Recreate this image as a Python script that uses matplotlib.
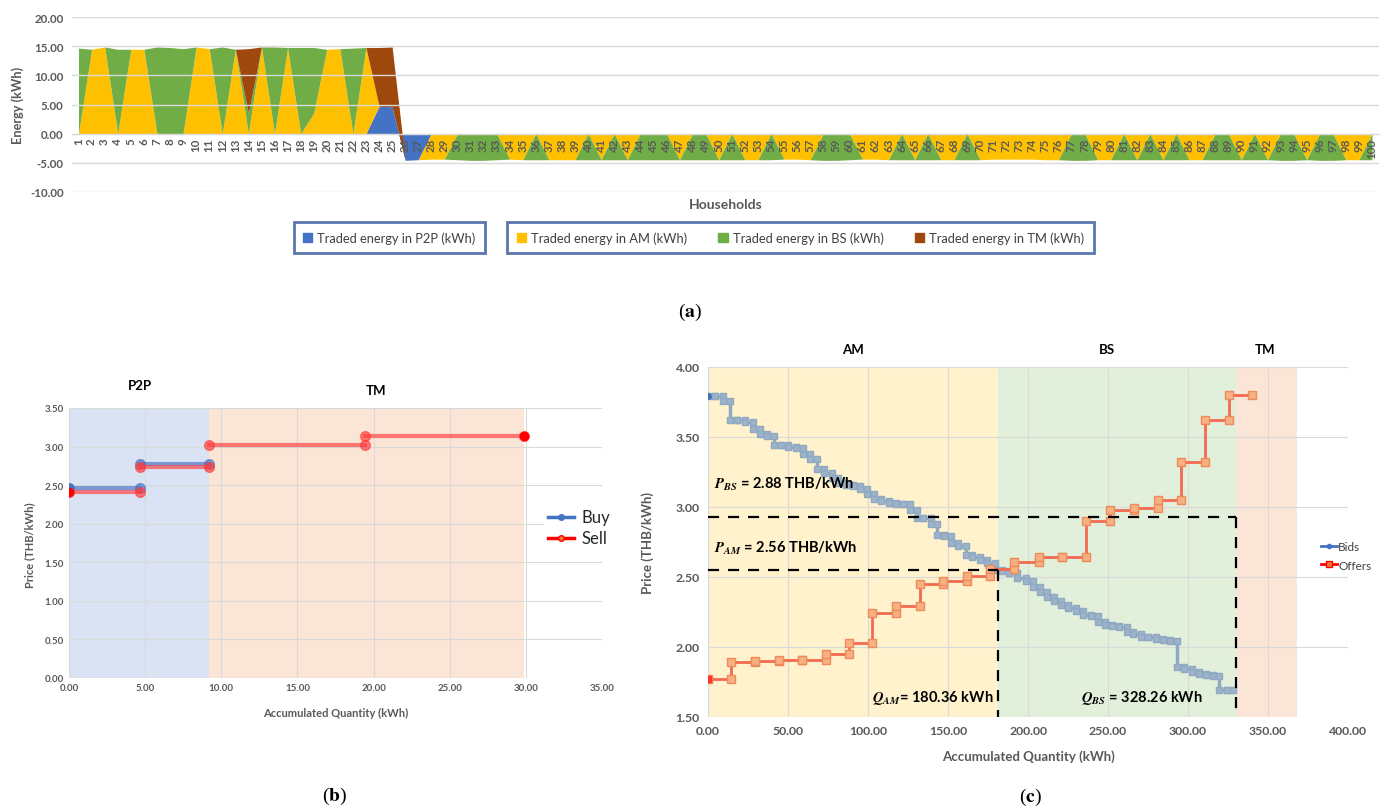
import matplotlib.pyplot as plt
import numpy as np
from matplotlib.patches import Patch
from matplotlib.lines import Line2D

plt.rcParams['font.family'] = ['Lato', 'DejaVu Sans']
plt.rcParams['mathtext.fontset'] = 'stix'

W, H = 1384, 812
GRAY = '#595959'
GRID = '#D9D9D9'

# ---------------- (a) traded energy per household ----------------
households = list(range(1, 101))
market = ['BS', 'AM', 'AM', 'BS', 'AM', 'AM', 'BS', 'BS', 'BS', 'AM',
          'AM', 'BS', 'AM', 'MIX', 'AM', 'BS', 'AM', 'BS', 'MIX', 'AM',
          'AM', 'BS', 'AM', 'MIX', 'MIX', 'P2P', 'P2P', 'AM', 'AM', 'BS',
          'BS', 'BS', 'BS', 'AM', 'AM', 'BS', 'AM', 'AM', 'AM', 'BS',
          'AM', 'BS', 'AM', 'BS', 'BS', 'BS', 'AM', 'BS', 'BS', 'AM',
          'BS', 'AM', 'AM', 'BS', 'AM', 'AM', 'AM', 'BS', 'BS', 'BS',
          'AM', 'AM', 'AM', 'BS', 'AM', 'BS', 'AM', 'AM', 'BS', 'AM',
          'AM', 'AM', 'AM', 'AM', 'AM', 'AM', 'BS', 'BS', 'AM', 'AM',
          'BS', 'AM', 'BS', 'AM', 'BS', 'AM', 'AM', 'BS', 'BS', 'AM',
          'BS', 'AM', 'BS', 'BS', 'AM', 'BS', 'BS', 'AM', 'AM', 'BS']
energy = [14.7, 14.5, 14.9, 14.5, 14.5, 14.5, 14.9, 14.8, 14.6, 14.9,
          14.6, 14.9, 14.5, 14.6, 14.9, 14.9, 14.8, 14.8, 14.8, 14.5,
          14.6, 14.7, 14.8, 14.8, 14.9, -4.6, -4.5, -4.4, -4.4, -4.5,
          -4.6, -4.6, -4.5, -4.4, -4.5, -4.5, -4.5, -4.5, -4.5, -4.5,
          -4.5, -4.5, -4.5, -4.5, -4.5, -4.5, -4.5, -4.5, -4.5, -4.5,
          -4.5, -4.5, -4.5, -4.5, -4.4, -4.4, -4.5, -4.6, -4.6, -4.5,
          -4.4, -4.4, -4.5, -4.5, -4.5, -4.5, -4.5, -4.5, -4.5, -4.5,
          -4.4, -4.4, -4.4, -4.4, -4.5, -4.5, -4.6, -4.6, -4.5, -4.5,
          -4.5, -4.5, -4.5, -4.5, -4.5, -4.5, -4.5, -4.5, -4.5, -4.5,
          -4.5, -4.5, -4.6, -4.6, -4.5, -4.6, -4.6, -4.5, -4.5, -4.5]
mixed = {14: {'BS': 3.5, 'TM': 11.1},
         19: {'AM': 3.5, 'BS': 11.3},
         24: {'P2P': 4.7, 'TM': 10.1},
         25: {'P2P': 4.6, 'TM': 10.3}}
series_names = ['P2P', 'AM', 'BS', 'TM']
series_labels = ['Traded energy in P2P (kWh)', 'Traded energy in AM (kWh)',
                 'Traded energy in BS (kWh)', 'Traded energy in TM (kWh)']
series_colors = ['#4472C4', '#FFC000', '#70AD47', '#9E480E']

# ---------------- (b) P2P / TM prices ----------------
buy_start = [0.0, 4.67]
buy_end = [4.67, 9.18]
buy_price = [2.46, 2.78]
sell_start = [0.0, 4.67, 9.18, 19.45]
sell_end = [4.67, 9.18, 19.45, 29.85]
sell_price = [2.41, 2.73, 3.02, 3.14]
b_regions = [('P2P', 0.0, 9.18, '#DAE3F3'), ('TM', 9.18, 29.85, '#FBE5D6')]

# ---------------- (c) AM / BS bids and offers ----------------
bid_q = [0, 4.6, 9.1, 13.9, 18.4, 23.2, 28.0, 32.5, 37.1, 41.2, 45.8, 50.2,
         54.9, 59.1, 63.6, 68.2, 72.7, 77.3, 81.5, 86.0, 90.6, 94.7, 99.3,
         104.0, 108.2, 113.0, 117.5, 121.7, 126.2, 130.4, 134.5, 139.3,
         143.4, 147.6, 152.1, 156.5, 161.0, 165.2, 169.7, 174.5, 179.3,
         183.6, 188.0, 193.0, 198.5, 203.0, 207.5, 211.7, 216.3, 220.6,
         225.2, 230.0, 234.6, 239.2, 244.0, 248.1, 252.5, 257.0, 261.7,
         265.8, 270.4, 275.2, 279.8, 284.6, 288.8, 292.9, 297.5, 302.3,
         306.9, 311.3, 315.8, 319.6, 324.2, 328.3]
bid_p = [3.79, 3.79, 3.76, 3.62, 3.62, 3.61, 3.56, 3.52, 3.51, 3.44, 3.44,
         3.43, 3.42, 3.38, 3.34, 3.27, 3.24, 3.21, 3.17, 3.16, 3.15, 3.13,
         3.09, 3.06, 3.04, 3.03, 3.02, 3.02, 2.98, 2.92, 2.92, 2.88, 2.80,
         2.79, 2.74, 2.72, 2.66, 2.64, 2.62, 2.60,
         2.55, 2.54, 2.53, 2.49, 2.47, 2.43, 2.39, 2.36, 2.33, 2.30, 2.28,
         2.26, 2.23, 2.22, 2.18, 2.16, 2.15, 2.14, 2.11, 2.09, 2.07, 2.07,
         2.06, 2.05, 2.04, 1.86, 1.84, 1.82, 1.81, 1.80, 1.79, 1.69, 1.69]
offer_q = [0, 14.5, 29.4, 44.1, 58.7, 73.6, 88.0, 102.8, 117.5, 132.4, 147.0,
           161.7, 176.2, 191.5, 206.7, 221.5, 236.3, 251.3, 266.2, 281.2,
           295.8, 310.6, 325.4, 340.2]
offer_p = [1.77, 1.89, 1.90, 1.905, 1.91, 1.95, 2.03, 2.24, 2.29, 2.45, 2.47,
           2.51, 2.56, 2.61, 2.64, 2.64, 2.90, 2.98, 2.99, 3.05, 3.32, 3.62,
           3.80]
c_regions = [('AM', 0.0, 181.5, '#FFF2CC'), ('BS', 181.5, 329.8, '#E2EFDA'),
             ('TM', 329.8, 368.0, '#FBE5D6')]
p_am_line, q_am_line = 2.55, 181.5
p_bs_line, q_bs_line = 2.93, 329.8


def rect(l, t, r, b):
    return [l / W, 1 - b / H, (r - l) / W, (b - t) / H]


def fx(px):
    return px / W


def fy(py):
    return 1 - py / H


def steps(q, p):
    xs, ys = [], []
    for k, price in enumerate(p):
        xs += [q[k], q[k + 1]]
        ys += [price, price]
    return xs, ys


fig = plt.figure(figsize=(W / 100, H / 100), dpi=100)

# ======== panel (a) ========
ax = fig.add_axes(rect(72, 18.3, 1378.5, 192.7))
vals = {n: np.zeros(100) for n in series_names}
for i, (m, e) in enumerate(zip(market, energy)):
    if m == 'MIX':
        for n, v in mixed[i + 1].items():
            vals[n][i] = v
    else:
        vals[m][i] = e
x = np.array(households)
base = np.zeros(100)
for n, c in zip(series_names, series_colors):
    top = base + vals[n]
    ax.fill_between(x, base, top, color=c, lw=0, zorder=1)
    base = top
ax.set_xlim(0.5, 100.5)
ax.set_ylim(-10, 20)
ax.set_yticks(np.arange(-10, 21, 5))
ax.set_yticklabels([f'{v:.2f}' for v in np.arange(-10, 21, 5)])
ax.set_xticks(households)
ax.set_xticklabels([str(h) for h in households])
ax.grid(axis='y', color=GRID, lw=1)
ax.set_axisbelow(False)
for s in ['left', 'right', 'top']:
    ax.spines[s].set_visible(False)
ax.spines['bottom'].set_position(('data', 0))
ax.spines['bottom'].set_color(GRID)
ax.tick_params(length=0, colors=GRAY)
ax.tick_params(axis='x', pad=3, labelsize=8.3, labelrotation=90)
ax.tick_params(axis='y', pad=6, labelsize=8.3)
for t in ax.get_xticklabels() + ax.get_yticklabels():
    t.set_fontweight('bold')
fig.text(fx(18), fy(105), 'Energy (kWh)', rotation=90, ha='center', va='center',
         fontsize=9.2, fontweight='bold', color=GRAY)
fig.text(fx(726), fy(205), 'Households', ha='center', va='center',
         fontsize=10, fontweight='bold', color=GRAY)

handles = [Patch(color=c) for c in series_colors]
leg1 = fig.legend(handles[:1], series_labels[:1], loc='center',
                  bbox_to_anchor=(fx(389.5), fy(238.5)), frameon=True,
                  fancybox=False, edgecolor='#2F5597', handlelength=0.7,
                  handleheight=0.7, handletextpad=0.4, fontsize=9.3,
                  borderpad=0.75, labelcolor='#404040')
leg1.get_frame().set_linewidth(2)
leg2 = fig.legend(handles[1:], series_labels[1:], loc='center', ncol=3,
                  bbox_to_anchor=(fx(800.5), fy(238.5)), frameon=True,
                  fancybox=False, edgecolor='#2F5597', handlelength=0.7,
                  handleheight=0.7, handletextpad=0.4, fontsize=9.3,
                  borderpad=0.75, columnspacing=2.4, labelcolor='#404040')
leg2.get_frame().set_linewidth(2)

fig.text(fx(690), fy(312), r'($\mathbf{a}$)', ha='center', va='center',
         fontsize=14, family='Liberation Serif')

# ======== panel (b) ========
axb = fig.add_axes(rect(69, 409, 602, 679))
for name, x0, x1, c in b_regions:
    axb.axvspan(x0, x1, color=c, lw=0, zorder=0.2)
for s0, s1, p in zip(buy_start, buy_end, buy_price):
    axb.plot([s0, s1], [p, p], color='#4472C4', lw=3, marker='o', ms=7,
             alpha=0.65, zorder=3)
for s0, s1, p in zip(sell_start, sell_end, sell_price):
    axb.plot([s0, s1], [p, p], color='#FF3B3B', lw=3, marker='o', ms=7,
             alpha=0.65, zorder=3)
axb.plot([0], [buy_price[0]], 'o', color='#4472C4', ms=6, zorder=4)
axb.plot([0], [sell_price[0]], 'o', color='#FF0000', ms=6, zorder=4)
axb.plot([sell_end[-1]], [sell_price[-1]], 'o', color='#FF0000', ms=6, zorder=4)
axb.set_xlim(0, 35)
axb.set_ylim(0, 3.5)
axb.set_xticks(np.arange(0, 36, 5))
axb.set_xticklabels([f'{v:.2f}' for v in np.arange(0, 36, 5)])
axb.set_yticks(np.arange(0, 3.51, 0.5))
axb.set_yticklabels([f'{v:.2f}' for v in np.arange(0, 3.51, 0.5)])
axb.grid(color=GRID, lw=0.8)
axb.set_axisbelow(True)
for s in axb.spines.values():
    s.set_visible(False)
axb.tick_params(length=0, colors=GRAY, labelsize=7)
for t in axb.get_xticklabels() + axb.get_yticklabels():
    t.set_fontweight('bold')
fig.text(fx(30), fy(545), 'Price (THB/kWh)', rotation=90, ha='center',
         va='center', fontsize=8, fontweight='bold', color=GRAY)
fig.text(fx(336), fy(713), 'Accumulated Quantity (kWh)', ha='center',
         va='center', fontsize=8, fontweight='bold', color=GRAY)
fig.text(fx(140), fy(386), 'P2P', ha='center', va='center', fontsize=9.5,
         fontweight='bold')
fig.text(fx(376), fy(391), 'TM', ha='center', va='center', fontsize=9.5,
         fontweight='bold')
hb = [Line2D([], [], color='#4472C4', lw=2.5, marker='o', ms=4),
      Line2D([], [], color='#FF0000', lw=2.5, marker='o', ms=4,
             markerfacecolor='#ED7D31')]
legb = axb.legend(hb, ['Buy', 'Sell'], loc='center left',
                  bbox_to_anchor=(fx(536), fy(529)),
                  bbox_transform=fig.transFigure, fontsize=12,
                  frameon=True, facecolor='white', edgecolor='none',
                  fancybox=False, framealpha=1, handlelength=1.6,
                  handletextpad=0.4, labelspacing=0.3, borderpad=0.2,
                  labelcolor='#262626')

fig.text(fx(335), fy(796), r'($\mathbf{b}$)', ha='center', va='center',
         fontsize=14, family='Liberation Serif')

# ======== panel (c) ========
axc = fig.add_axes(rect(708, 368, 1348, 718))
for name, x0, x1, c in c_regions:
    axc.axvspan(x0, x1, color=c, lw=0, zorder=0.2)
bx, by = steps(bid_q, bid_p)
axc.plot(bx, by, color='#8EA9C1', lw=2.5, marker='s', ms=4,
         markerfacecolor='#9DB3C9', markeredgecolor='#8EA9C1', zorder=3)
axc.plot([bid_q[0]], [bid_p[0]], 'o', color='#4472C4', ms=4, zorder=4)
ox, oy = steps(offer_q, offer_p)
axc.plot(ox, oy, color='#F26A4F', lw=2, marker='s', ms=6,
         markerfacecolor='#F6B183', markeredgecolor='#F08A5A', zorder=4)
axc.plot([offer_q[0]], [offer_p[0]], 's', color='#FF3030', ms=5, zorder=5)

dash = dict(color='black', lw=1.6, ls=(0, (5, 4)), zorder=5)
axc.plot([0, q_bs_line], [p_bs_line, p_bs_line], **dash)
axc.plot([q_bs_line, q_bs_line], [p_bs_line, 1.5], **dash)
axc.plot([0, q_am_line], [p_am_line, p_am_line], **dash)
axc.plot([q_am_line, q_am_line], [p_am_line, 1.5], **dash)

axc.text(4, 3.165, r'$\mathbfit{P}_{\mathbfit{BS}}$ = 2.88 THB/kWh',
         fontsize=10.5, fontweight='bold', va='center', zorder=6)
axc.text(4, 2.71, r'$\mathbfit{P}_{\mathbfit{AM}}$ = 2.56 THB/kWh',
         fontsize=10.5, fontweight='bold', va='center', zorder=6)
axc.text(178.5, 1.64, r'$\mathbfit{Q}_{\mathbfit{AM}}$= 180.36 kWh',
         fontsize=10.5, fontweight='bold', va='center', ha='right', zorder=6)
axc.text(233, 1.64, r'$\mathbfit{Q}_{\mathbfit{BS}}$ = 328.26 kWh',
         fontsize=10.5, fontweight='bold', va='center', ha='left', zorder=6)

axc.set_xlim(0, 400)
axc.set_ylim(1.5, 4.0)
axc.set_xticks(np.arange(0, 401, 50))
axc.set_xticklabels([f'{v:.2f}' for v in np.arange(0, 401, 50)])
axc.set_yticks(np.arange(1.5, 4.01, 0.5))
axc.set_yticklabels([f'{v:.2f}' for v in np.arange(1.5, 4.01, 0.5)])
axc.grid(color=GRID, lw=0.8)
axc.set_axisbelow(True)
for s in axc.spines.values():
    s.set_visible(False)
axc.tick_params(length=0, colors=GRAY, labelsize=8.8, pad=6)
for t in axc.get_xticklabels() + axc.get_yticklabels():
    t.set_fontweight('bold')
fig.text(fx(648), fy(543), 'Price (THB/kWh)', rotation=90, ha='center',
         va='center', fontsize=9.5, fontweight='bold', color=GRAY)
fig.text(fx(1028), fy(757), 'Accumulated Quantity (kWh)', ha='center',
         va='center', fontsize=9.5, fontweight='bold', color=GRAY)
for name, px in [('AM', 853), ('BS', 1107), ('TM', 1265)]:
    fig.text(fx(px), fy(350), name, ha='center', va='center', fontsize=9.5,
             fontweight='bold')
hc = [Line2D([], [], color='#4472C4', lw=2, marker='o', ms=3),
      Line2D([], [], color='#FF0000', lw=2, marker='s', ms=5,
             markerfacecolor='#ED7D31')]
axc.legend(hc, ['Bids', 'Offers'], loc='center left',
           bbox_to_anchor=(fx(1310), fy(557)), bbox_transform=fig.transFigure,
           fontsize=8.5, frameon=False, handlelength=1.4, handletextpad=0.1,
           labelspacing=0.6, labelcolor='#404040')

fig.text(fx(1030), fy(797), r'($\mathbf{c}$)', ha='center', va='center',
         fontsize=14, family='Liberation Serif')

fig.savefig('out.png', dpi=100)
